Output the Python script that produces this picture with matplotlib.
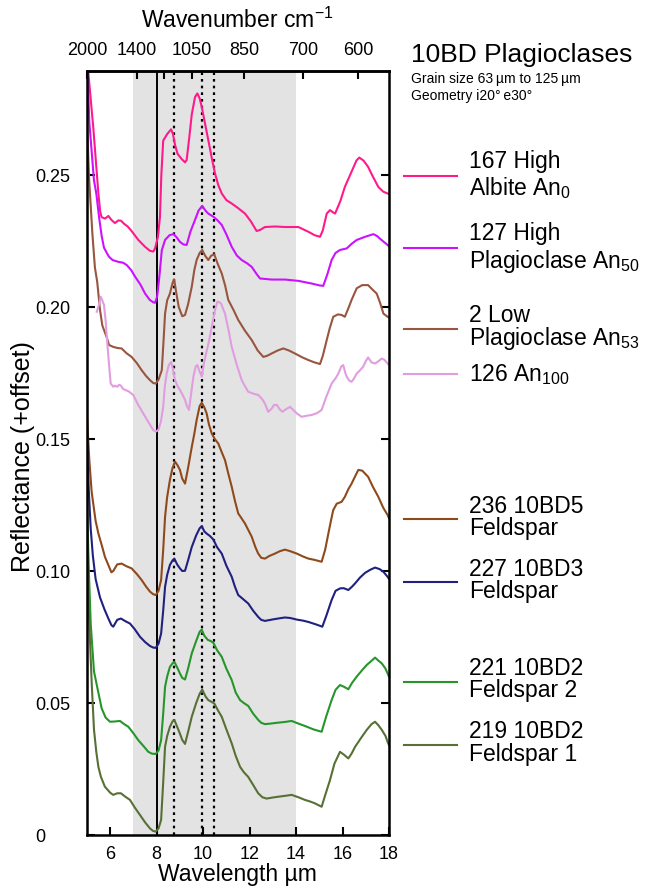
import numpy as np
import matplotlib
matplotlib.use("Agg")
import matplotlib.pyplot as plt
from matplotlib.lines import Line2D

plt.rcParams['font.family'] = ['Liberation Sans', 'DejaVu Sans']
plt.rcParams['mathtext.fontset'] = 'custom'
plt.rcParams['mathtext.rm'] = 'Liberation Sans'
plt.rcParams['mathtext.it'] = 'Liberation Sans:italic'
plt.rcParams['mathtext.default'] = 'regular'

# 167 High Albite An0
wl_albite = [5.0, 5.06, 5.27, 5.49, 5.57, 5.63, 5.78, 5.92, 6.05, 6.2, 6.35, 6.46, 6.6, 6.75, 6.9, 7.21, 7.5, 7.71,
             7.85, 7.93, 8.05, 8.14, 8.2, 8.28, 8.45, 8.62, 8.7, 8.79, 8.9, 9.08, 9.22, 9.29, 9.4, 9.51, 9.65, 9.75,
             9.85, 9.94, 10.08, 10.22, 10.37, 10.51, 10.65, 10.8, 11.0, 11.23, 11.5, 11.8, 12.05, 12.3, 12.45, 12.66,
             13.1, 13.52, 14.1, 14.53, 14.8, 15.03, 15.15, 15.32, 15.46, 15.6, 15.68, 15.9, 16.1, 16.4, 16.6, 16.72,
             16.9, 17.1, 17.3, 17.54, 17.75, 17.94, 18.0]
r_albite = [0.295, 0.2885, 0.268, 0.243, 0.236, 0.234, 0.2335, 0.2345, 0.233, 0.2318, 0.2328, 0.2327, 0.2315, 0.2305,
            0.229, 0.2254, 0.2228, 0.2213, 0.2210, 0.2222, 0.2265, 0.234, 0.25, 0.263, 0.2655, 0.2673, 0.2655, 0.2614,
            0.258, 0.256, 0.2548, 0.2557, 0.264, 0.273, 0.2795, 0.2809, 0.279, 0.2758, 0.2695, 0.2633, 0.2565, 0.2506,
            0.2462, 0.243, 0.2405, 0.2392, 0.2375, 0.2354, 0.2325, 0.2288, 0.2292, 0.2303, 0.2305, 0.2303, 0.2303,
            0.2285, 0.2272, 0.2266, 0.229, 0.2354, 0.2367, 0.2358, 0.2354, 0.24, 0.2455, 0.2515, 0.2555, 0.2566,
            0.2555, 0.2531, 0.2495, 0.2455, 0.2437, 0.243, 0.2428]

# 127 High Plagioclase An50
wl_hplag = [5.0, 5.1, 5.3, 5.4, 5.52, 5.63, 5.73, 5.85, 5.95, 6.1, 6.35, 6.55, 6.71, 6.9, 7.07, 7.3, 7.5, 7.7, 7.85,
            7.93, 8.02, 8.12, 8.22, 8.36, 8.55, 8.72, 8.85, 9.0, 9.15, 9.29, 9.45, 9.65, 9.8, 9.96, 10.1, 10.22, 10.44,
            10.6, 10.8, 11.0, 11.23, 11.45, 11.66, 11.9, 12.09, 12.3, 12.45, 12.95, 13.52, 14.1, 14.67, 15.0, 15.17,
            15.35, 15.53, 15.7, 15.89, 16.18, 16.4, 16.61, 16.97, 17.33, 17.5, 17.61, 17.8, 17.94, 18.0]
r_hplag = [0.295, 0.27, 0.248, 0.243, 0.234, 0.227, 0.2225, 0.2205, 0.219, 0.2178, 0.2171, 0.2168, 0.2159, 0.2140,
           0.2115, 0.2085, 0.2051, 0.2027, 0.2018, 0.2016, 0.204, 0.212, 0.2215, 0.2254, 0.2272, 0.2276, 0.2265, 0.2247,
           0.2237, 0.2235, 0.2285, 0.2330, 0.2365, 0.2383, 0.2365, 0.2354, 0.2342, 0.233, 0.2311, 0.2275, 0.2228,
           0.2195, 0.2178, 0.2165, 0.2152, 0.2125, 0.2108, 0.2104, 0.2104, 0.2099, 0.2089, 0.2082, 0.2080, 0.2125,
           0.2178, 0.2205, 0.2216, 0.2222, 0.224, 0.2254, 0.2266, 0.2276, 0.2268, 0.2259, 0.2245, 0.2235, 0.223]

# 2 Low Plagioclase An53
wl_lplag = [5.0, 5.09, 5.23, 5.34, 5.44, 5.56, 5.66, 5.85, 5.95, 6.13, 6.3, 6.49, 6.7, 6.92, 7.15, 7.35, 7.55, 7.71,
            7.85, 7.96, 8.08, 8.22, 8.3, 8.36, 8.45, 8.57, 8.68, 8.75, 8.85, 8.95, 9.1, 9.22, 9.35, 9.51, 9.62, 9.72,
            9.85, 9.96, 10.08, 10.22, 10.35, 10.48, 10.62, 10.8, 10.95, 11.08, 11.3, 11.51, 11.8, 12.09, 12.35, 12.59,
            12.75, 12.95, 13.2, 13.45, 13.7, 13.95, 14.25, 14.53, 14.8, 15.03, 15.15, 15.32, 15.45, 15.6, 15.8, 15.96,
            16.1, 16.25, 16.39, 16.61, 16.85, 17.1, 17.3, 17.47, 17.62, 17.76, 17.94, 18.0]
r_lplag = [0.27, 0.2487, 0.228, 0.215, 0.2095, 0.1989, 0.193, 0.1885, 0.1856, 0.1849, 0.1845, 0.1843, 0.1825, 0.1811,
           0.1787, 0.1761, 0.1738, 0.1723, 0.1712, 0.171, 0.1725, 0.1761, 0.188, 0.1975, 0.2025, 0.2051, 0.209,
           0.2105, 0.205, 0.200, 0.1965, 0.197, 0.201, 0.2077, 0.214, 0.2178, 0.2205, 0.2216, 0.2195, 0.2178, 0.2195,
           0.2199, 0.2165, 0.2127, 0.208, 0.2027, 0.199, 0.1951, 0.191, 0.1875, 0.1835, 0.1811, 0.1815, 0.1824,
           0.1835, 0.1843, 0.1835, 0.1824, 0.181, 0.1799, 0.179, 0.1784, 0.1815, 0.1875, 0.192, 0.1963, 0.1972, 0.197,
           0.1963, 0.1995, 0.2027, 0.2071, 0.2083, 0.2083, 0.2065, 0.2051, 0.2015, 0.1975, 0.1963, 0.196]

# 126 An100
wl_an100 = [5.42, 5.52, 5.59, 5.66, 5.73, 5.8, 5.87, 5.95, 6.02, 6.13, 6.2, 6.3, 6.38, 6.45, 6.55, 6.64, 6.8, 6.99,
            7.2, 7.42, 7.65, 7.85, 7.96, 8.07, 8.18, 8.28, 8.35, 8.43, 8.52, 8.62, 8.7, 8.79, 8.9, 9.0, 9.1, 9.22, 9.3,
            9.39, 9.48, 9.58, 9.68, 9.75, 9.85, 9.94, 10.02, 10.11, 10.25, 10.37, 10.5, 10.61, 10.7, 10.77, 10.94,
            11.1, 11.23, 11.45, 11.66, 11.8, 11.94, 12.15, 12.37, 12.55, 12.66, 12.8, 12.95, 13.05, 13.17, 13.3,
            13.41, 13.55, 13.74, 13.88, 14.03, 14.24, 14.45, 14.67, 14.9, 15.1, 15.3, 15.53, 15.7, 15.82, 15.95,
            16.03, 16.12, 16.18, 16.3, 16.39, 16.5, 16.61, 16.75, 16.89, 17.0, 17.1, 17.25, 17.4, 17.55, 17.69, 17.8,
            17.94, 18.0]
r_an100 = [0.1982, 0.201, 0.2039, 0.2025, 0.2008, 0.195, 0.1868, 0.178, 0.171, 0.1698, 0.1702, 0.1698, 0.1705,
           0.1703, 0.169, 0.1686, 0.168, 0.1667, 0.163, 0.1597, 0.1563, 0.1534, 0.1528, 0.1534, 0.1565, 0.1622, 0.170,
           0.1748, 0.178, 0.1792, 0.1765, 0.1723, 0.170, 0.1686, 0.167, 0.1648, 0.1625, 0.161, 0.167, 0.1736, 0.1775,
           0.178, 0.1755, 0.1736, 0.178, 0.1818, 0.187, 0.1925, 0.1985, 0.202, 0.2018, 0.2013, 0.1975, 0.191, 0.1849,
           0.178, 0.1723, 0.170, 0.1679, 0.1672, 0.1667, 0.165, 0.1634, 0.1603, 0.1615, 0.1629, 0.1629, 0.1612,
           0.1603, 0.1612, 0.1622, 0.161, 0.1597, 0.1584, 0.1588, 0.1591, 0.1598, 0.161, 0.166, 0.171, 0.173, 0.1748,
           0.1775, 0.178, 0.175, 0.1736, 0.172, 0.1717, 0.173, 0.1748, 0.176, 0.1774, 0.1795, 0.1809, 0.179, 0.1786,
           0.1795, 0.1805, 0.180, 0.1786, 0.178]

# 236 10BD5 Feldspar
wl_bd5 = [5.0, 5.1, 5.2, 5.37, 5.49, 5.66, 5.77, 5.95, 6.05, 6.13, 6.3, 6.49, 6.7, 6.92, 7.15, 7.35, 7.55, 7.71, 7.85,
          7.96, 8.08, 8.19, 8.28, 8.36, 8.45, 8.57, 8.68, 8.79, 8.9, 9.0, 9.1, 9.22, 9.35, 9.51, 9.62, 9.72, 9.85,
          9.94, 10.05, 10.15, 10.25, 10.37, 10.5, 10.65, 10.8, 10.94, 11.08, 11.23, 11.37, 11.51, 11.65, 11.8, 12.09,
          12.25, 12.37, 12.5, 12.66, 12.85, 13.09, 13.3, 13.52, 13.75, 14.03, 14.3, 14.53, 14.8, 15.1, 15.25, 15.39,
          15.5, 15.6, 15.75, 15.96, 16.1, 16.25, 16.39, 16.55, 16.68, 16.85, 17.1, 17.3, 17.54, 17.75, 17.94, 18.0]
r_bd5 = [0.158, 0.142, 0.130, 0.119, 0.1142, 0.109, 0.1054, 0.1016, 0.0995, 0.100, 0.1025, 0.1028, 0.1018, 0.101,
         0.0988, 0.0966, 0.0940, 0.0922, 0.0912, 0.0909, 0.0925, 0.0966, 0.108, 0.1205, 0.128, 0.1345, 0.139, 0.1414,
         0.140, 0.1383, 0.135, 0.1331, 0.139, 0.147, 0.152, 0.1572, 0.1625, 0.1637, 0.162, 0.1597, 0.1555, 0.1521,
         0.150, 0.1483, 0.145, 0.142, 0.137, 0.1319, 0.1265, 0.1218, 0.120, 0.118, 0.113, 0.109, 0.1066, 0.105,
         0.1047, 0.1057, 0.1066, 0.1075, 0.1081, 0.1075, 0.1066, 0.1055, 0.1047, 0.1042, 0.1035, 0.108, 0.1142,
         0.119, 0.1231, 0.1255, 0.1262, 0.1281, 0.131, 0.1331, 0.136, 0.1383, 0.138, 0.1357, 0.132, 0.1281, 0.124,
         0.1212, 0.120]

# 227 10BD3 Feldspar
wl_bd3 = [5.0, 5.08, 5.16, 5.25, 5.37, 5.56, 5.75, 5.92, 6.05, 6.13, 6.3, 6.46, 6.65, 6.85, 7.05, 7.28, 7.5, 7.71,
          7.85, 7.96, 8.08, 8.19, 8.28, 8.36, 8.45, 8.57, 8.68, 8.76, 8.88, 9.0, 9.1, 9.22, 9.35, 9.51, 9.7, 9.85,
          9.94, 10.05, 10.15, 10.3, 10.44, 10.6, 10.8, 11.0, 11.23, 11.37, 11.51, 11.7, 11.94, 12.15, 12.37, 12.5,
          12.66, 12.9, 13.09, 13.3, 13.52, 13.75, 14.03, 14.3, 14.53, 14.85, 15.13, 15.3, 15.53, 15.7, 15.89, 16.05,
          16.25, 16.4, 16.54, 16.75, 16.97, 17.2, 17.4, 17.6, 17.76, 17.94, 18.0]
r_bd3 = [0.150, 0.130, 0.116, 0.106, 0.097, 0.090, 0.0855, 0.082, 0.0795, 0.0789, 0.0815, 0.082, 0.081, 0.0801,
         0.0780, 0.0751, 0.0731, 0.0716, 0.0710, 0.0709, 0.0725, 0.0763, 0.085, 0.094, 0.0985, 0.1023, 0.104,
         0.1047, 0.1025, 0.101, 0.100, 0.1001, 0.104, 0.1091, 0.1135, 0.1162, 0.117, 0.115, 0.1142, 0.1132, 0.1119,
         0.109, 0.1066, 0.102, 0.0978, 0.094, 0.0909, 0.0895, 0.0877, 0.085, 0.0826, 0.0815, 0.0811, 0.0815, 0.0818,
         0.0821, 0.0824, 0.0822, 0.0816, 0.0812, 0.0807, 0.0798, 0.0789, 0.083, 0.089, 0.0925, 0.0934, 0.0935,
         0.0928, 0.094, 0.0953, 0.0975, 0.0993, 0.1005, 0.1013, 0.1007, 0.0997, 0.0978, 0.097]

# 221 10BD2 Feldspar 2
wl_bd2b = [5.0, 5.08, 5.16, 5.3, 5.44, 5.63, 5.8, 5.99, 6.2, 6.42, 6.6, 6.78, 7.0, 7.21, 7.45, 7.64, 7.8, 7.96, 8.08,
           8.19, 8.28, 8.36, 8.45, 8.57, 8.68, 8.76, 8.88, 9.0, 9.1, 9.22, 9.35, 9.51, 9.7, 9.85, 9.94, 10.05, 10.2,
           10.32, 10.44, 10.6, 10.8, 11.0, 11.23, 11.4, 11.59, 11.75, 11.94, 12.15, 12.37, 12.5, 12.66, 12.9, 13.17,
           13.5, 13.81, 14.1, 14.38, 14.75, 15.1, 15.3, 15.53, 15.7, 15.89, 16.05, 16.25, 16.4, 16.61, 16.85, 17.04,
           17.25, 17.4, 17.55, 17.69, 17.85, 17.94, 18.0]
r_bd2b = [0.125, 0.100, 0.080, 0.062, 0.056, 0.048, 0.0445, 0.0429, 0.043, 0.0432, 0.042, 0.041, 0.0385, 0.0359,
          0.0335, 0.0315, 0.0308, 0.0307, 0.032, 0.0359, 0.046, 0.0561, 0.060, 0.0637, 0.065, 0.0656, 0.0635, 0.0612,
          0.0595, 0.0589, 0.063, 0.0688, 0.0735, 0.077, 0.0778, 0.0755, 0.0739, 0.0735, 0.0728, 0.070, 0.0675, 0.063,
          0.0587, 0.054, 0.0511, 0.050, 0.0489, 0.046, 0.0436, 0.0425, 0.042, 0.0422, 0.0425, 0.0428, 0.0432, 0.0422,
          0.0413, 0.040, 0.0391, 0.045, 0.0511, 0.055, 0.0568, 0.0562, 0.0552, 0.0575, 0.060, 0.0625, 0.0644, 0.066,
          0.0672, 0.066, 0.065, 0.063, 0.0612, 0.060]

# 219 10BD2 Feldspar 1
wl_bd2a = [5.0, 5.1, 5.2, 5.3, 5.4, 5.49, 5.6, 5.77, 6.0, 6.13, 6.3, 6.46, 6.65, 6.85, 7.05, 7.28, 7.5, 7.71, 7.85,
           7.96, 8.08, 8.19, 8.28, 8.36, 8.45, 8.57, 8.68, 8.76, 8.88, 9.0, 9.1, 9.22, 9.35, 9.51, 9.7, 9.85, 9.96,
           10.1, 10.22, 10.35, 10.48, 10.65, 10.8, 11.0, 11.23, 11.4, 11.59, 11.75, 11.94, 12.15, 12.37, 12.55, 12.73,
           13.0, 13.23, 13.5, 13.81, 14.1, 14.38, 14.6, 14.81, 15.1, 15.25, 15.46, 15.65, 15.89, 16.05, 16.25, 16.4,
           16.54, 16.8, 17.04, 17.25, 17.4, 17.55, 17.69, 17.85, 17.94, 18.0]
r_bd2a = [0.105, 0.080, 0.058, 0.040, 0.0315, 0.0258, 0.022, 0.0183, 0.016, 0.0152, 0.0158, 0.0158, 0.0145, 0.0133,
          0.0105, 0.0076, 0.0048, 0.0025, 0.0015, 0.0013, 0.0025, 0.0057, 0.020, 0.0334, 0.0375, 0.041, 0.043,
          0.0436, 0.041, 0.0384, 0.036, 0.0345, 0.039, 0.0448, 0.050, 0.0535, 0.0551, 0.0525, 0.0511, 0.0505, 0.0498,
          0.047, 0.0448, 0.040, 0.0347, 0.030, 0.0258, 0.0238, 0.022, 0.019, 0.0158, 0.0143, 0.0138, 0.0142, 0.0145,
          0.0148, 0.0152, 0.0143, 0.0133, 0.0127, 0.012, 0.0107, 0.015, 0.0208, 0.027, 0.0315, 0.0305, 0.029, 0.031,
          0.0334, 0.0368, 0.0398, 0.042, 0.0429, 0.0415, 0.0398, 0.0375, 0.0353, 0.034]

series = [
    (wl_albite, r_albite, '#ff1a8c', ['167 High', 'Albite An$_{0}$'], [167.7, 195.0], 175.7),
    (wl_hplag, r_hplag, '#cc11ff', ['127 High', 'Plagioclase An$_{50}$'], [240.0, 268.3], 247.7),
    (wl_lplag, r_lplag, '#985540', ['2 Low', 'Plagioclase An$_{53}$'], [321.5, 345.0], 329.3),
    (wl_an100, r_an100, '#e09ee0', ['126 An$_{100}$'], [380.7], 374.3),
    (wl_bd5, r_bd5, '#8f4a1c', ['236 10BD5', 'Feldspar'], [513.3, 535.0], 519.0),
    (wl_bd3, r_bd3, '#202080', ['227 10BD3', 'Feldspar'], [576.0, 598.3], 582.3),
    (wl_bd2b, r_bd2b, '#26962a', ['221 10BD2', 'Feldspar 2'], [675.0, 696.7], 681.7),
    (wl_bd2a, r_bd2a, '#577035', ['219 10BD2', 'Feldspar 1'], [738.3, 760.7], 745.0),
]

W, H = 651, 896
fig = plt.figure(figsize=(W / 100, H / 100), dpi=100)
ax = fig.add_axes([87 / W, 1 - 835 / H, (389 - 87) / W, (835 - 71) / H])

ax.axvspan(7, 14, color='#e3e3e3', lw=0, zorder=0)
ax.axvline(8, color='black', lw=1.4, zorder=1)
for xv in [8.75, 9.95, 10.48]:
    ax.axvline(xv, color='black', lw=1.6, ls=(0, (1.2, 1.8)), zorder=1)

for wl, r, col, _, _, _ in series:
    ax.plot(wl, r, color=col, lw=1.5, zorder=2)

ax.set_xlim(5, 18)
ax.set_ylim(0, 0.2894)
ax.set_xticks([6, 8, 10, 12, 14, 16, 18])
ax.set_yticks([0, 0.05, 0.10, 0.15, 0.20, 0.25])
ax.set_yticklabels(['0', '0.05', '0.10', '0.15', '0.20', '0.25'])
ax.tick_params(axis='x', direction='in', length=6, width=1.5, labelsize=13, pad=8, top=False)
ax.tick_params(axis='y', direction='in', length=6, width=1.5, labelsize=13, pad=37, right=True)
for lab in ax.get_yticklabels():
    lab.set_horizontalalignment('left')
for sp in ax.spines.values():
    sp.set_linewidth(1.8)


def to_wn(x):
    x = np.asarray(x, dtype=float)
    with np.errstate(divide='ignore', invalid='ignore'):
        return 1e4 / x


secax = ax.secondary_xaxis('top', functions=(to_wn, to_wn))
secax.set_xticks([2000, 1400, 1200, 1050, 850, 700, 600])
secax.set_xticklabels(['2000', '1400', '', '1050', '850', '700', '600'])
secax.tick_params(direction='in', length=6, width=1.5, labelsize=13, pad=8.5)
secax.spines['top'].set_linewidth(1.8)


def fx(px):
    return px / W


def fy(py):
    return 1 - py / H


fig.text(fx(237), fy(28), 'Wavenumber cm$^{-1}$', fontsize=16.5, ha='center', va='baseline')
fig.text(fx(237), fy(881), 'Wavelength µm', fontsize=16.5, ha='center', va='baseline')
fig.text(fx(23), fy(457), 'Reflectance (+offset)', fontsize=18, ha='center', va='center', rotation=90)

fig.text(fx(411), fy(62), '10BD Plagioclases', fontsize=19, ha='left', va='baseline')
fig.text(fx(411), fy(83), 'Grain size 63\u2009µm to 125\u2009µm', fontsize=10, ha='left', va='baseline')
fig.text(fx(411), fy(100), 'Geometry i20°\u2009e30°', fontsize=10, ha='left', va='baseline')

for _, _, col, lines, baselines, ly in series:
    fig.add_artist(Line2D([fx(404), fx(457)], [fy(ly), fy(ly)], color=col, lw=1.5))
    for txt, b in zip(lines, baselines):
        fig.text(fx(469), fy(b), txt, fontsize=16.5, ha='left', va='baseline')

fig.savefig('out.png', dpi=100)
